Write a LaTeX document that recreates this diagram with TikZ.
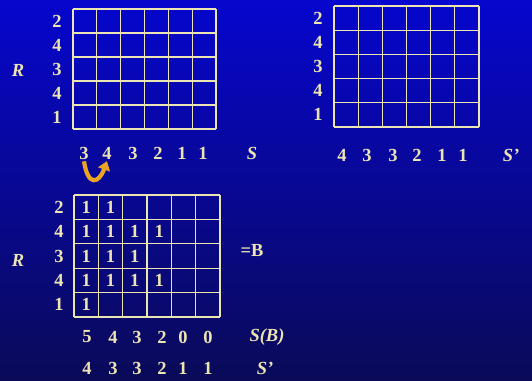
\documentclass[tikz,border=0pt]{standalone}
\usepackage{fontspec}
\setmainfont{Liberation Serif}
\usetikzlibrary{arrows.meta}
\definecolor{chalk}{RGB}{236,228,178}
\definecolor{topblue}{RGB}{6,6,206}
\definecolor{navy}{RGB}{10,10,88}
\definecolor{swaporange}{RGB}{236,164,36}
\begin{document}
\begin{tikzpicture}[x=0.02cm, y=-0.02cm,
    lbl/.style={text=chalk, font=\bfseries\fontsize{10.5}{12}\selectfont, inner sep=0pt},
    varlbl/.style={lbl, font=\bfseries\itshape\fontsize{10.5}{12}\selectfont},
    gridline/.style={draw=chalk, line width=0.7pt}]
    % background
    \shade[top color=topblue, bottom color=navy] (0,0) rectangle (532,381);
    \useasboundingbox (0,0) rectangle (532,381);

    % top left matrix
    \foreach \i in {0,...,6} \draw[gridline] (73+\i*23.83, 9) -- ++(0,120);
    \foreach \j in {0,...,5} \draw[gridline] (73, 9+\j*24) -- ++(143,0);
    \foreach \v [count=\j] in {2,4,3,4,1}
        \node[lbl] (ra\j) at (57, 9+\j*24-12) {\v};
    \node[varlbl] (Ra) at (18, 70) {R};
    \foreach \v/\x [count=\i] in {3/84, 4/107, 3/133, 2/158, 1/182, 1/203}
        \node[lbl] (sa\i) at (\x, 153) {\v};
    \node[varlbl] (Sa) at (252, 153) {S};

    % swap of the first two columns
    \draw[swaporange, line width=2.4pt, -{Triangle[length=5pt, width=7pt]}]
        ([yshift=-1pt]sa1.south) .. controls +(4,26) and +(-8,22) .. ([yshift=-1pt]sa2.south);

    % top right matrix
    \foreach \i in {0,...,6} \draw[gridline] (334+\i*24.17, 6) -- ++(0,121);
    \foreach \j in {0,...,5} \draw[gridline] (334, 6+\j*24.2) -- ++(145,0);
    \foreach \v [count=\j] in {2,4,3,4,1}
        \node[lbl] (rb\j) at (318, 6+\j*24.2-12.1) {\v};
    \foreach \v/\x [count=\i] in {4/342, 3/367, 3/393, 2/417, 1/442, 1/463}
        \node[lbl] (sb\i) at (\x, 155) {\v};
    \node[varlbl] (Sb) at (511, 155) {S'};

    % bottom matrix B
    \foreach \i in {0,...,6} \draw[gridline] (74+\i*24.33, 195) -- ++(0,122);
    \foreach \j in {0,...,5} \draw[gridline] (74, 195+\j*24.4) -- ++(146,0);
    \foreach \v [count=\j] in {2,4,3,4,1}
        \node[lbl] (rc\j) at (59, 195+\j*24.4-12.2) {\v};
    \node[varlbl] (Rc) at (18, 260) {R};
    \foreach \r/\n in {1/2, 2/4, 3/3, 4/4, 5/1}
        \foreach \c in {1,...,\n}
            \node[lbl] (b\r\c) at (74+\c*24.33-12.2, 195+\r*24.4-12.2) {1};
    \node[lbl] (eqB) at (252, 250) {=B};
    \foreach \v/\x [count=\i] in {5/87, 4/113, 3/137, 2/162, 0/183, 0/208}
        \node[lbl] (sc\i) at (\x, 337) {\v};
    \node[varlbl] (SB) at (267, 337) {S(B)};
    \foreach \v/\x [count=\i] in {4/87, 3/113, 3/137, 2/162, 1/183, 1/208}
        \node[lbl] (sd\i) at (\x, 368) {\v};
    \node[varlbl] (Sd) at (265, 368) {S'};
\end{tikzpicture}
\end{document}
